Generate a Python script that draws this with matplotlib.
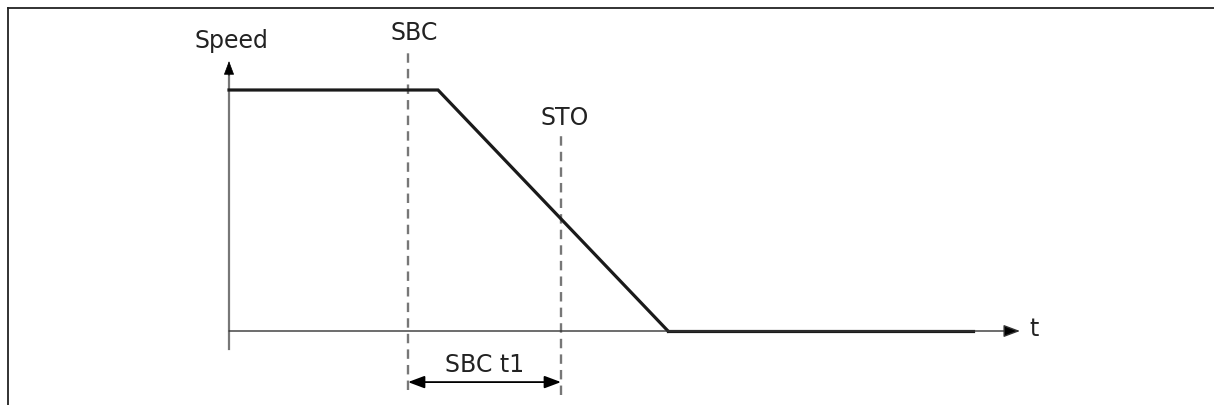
import matplotlib.pyplot as plt
from matplotlib.lines import Line2D

# speed profile (time in arbitrary units, speed normalised)
time_pts = [0.0, 2.09, 4.39]
speed_pts = [1.0, 1.0, 0.0]
stop_end = 7.44          # end of the bold zero-speed segment
t_axis_end = 7.91        # arrow tip of time axis
v_axis_end = 1.12        # arrow tip of speed axis
v_axis_low = -0.075      # speed axis runs a bit below zero

markers = ["SBC", "STO"]
marker_t = [1.79, 3.32]
marker_top = [1.166, 0.82]
marker_bottom = [-0.245, -0.265]
marker_label_t = [1.85, 3.36]
marker_label_v = [1.236, 0.884]

span_label = "SBC t1"
span_v = -0.212

FS = 17
arrow_head = "-|>,head_length=0.4,head_width=0.15"

fig = plt.figure(figsize=(12.14, 4.05), dpi=100)
ax = fig.add_axes([0, 0, 1, 1])
ax.set_xlim(-2.29, 9.85)
ax.set_ylim(-74 / 241, 331 / 241)
ax.axis("off")

# frame around picture (left and top edges only)
fig.add_artist(Line2D([8 / 1214, 8 / 1214], [0, 1 - 8 / 405], color="#222222", lw=1.3))
fig.add_artist(Line2D([8 / 1214, 1], [1 - 8 / 405, 1 - 8 / 405], color="#222222", lw=1.3))

# speed axis: grey shaft, black head
ax.plot([0, 0], [v_axis_low, v_axis_end - 0.03], color="#777777", lw=1.6)
ax.annotate("", xy=(0, v_axis_end), xytext=(0, v_axis_end - 0.06),
            arrowprops=dict(arrowstyle=arrow_head, lw=0.5, mutation_scale=22,
                            shrinkA=0, shrinkB=0, fc="black", ec="black"))
# time axis
ax.annotate("", xy=(t_axis_end, 0), xytext=(0, 0),
            arrowprops=dict(arrowstyle=arrow_head, lw=1.0, mutation_scale=25,
                            shrinkA=0, shrinkB=0, fc="black", ec="#333333"))
ax.text(0.02, 1.203, "Speed", fontsize=FS, color="#222222", ha="center", va="center")
ax.text(8.05, 0.01, "t", fontsize=FS, color="#222222", ha="center", va="center")

# SBC / STO markers
for name, tm, top, bot, lx, ly in zip(markers, marker_t, marker_top, marker_bottom,
                                      marker_label_t, marker_label_v):
    ax.plot([tm, tm], [bot, top], color="#777777", lw=1.7, dashes=(4, 2.6))
    ax.text(lx, ly, name, fontsize=FS, color="#222222", ha="center", va="center")

# speed curve
ax.plot(time_pts, speed_pts, color="#1a1a1a", lw=2.3, solid_joinstyle="miter")
ax.plot([time_pts[-1], stop_end], [0, 0], color="#1a1a1a", lw=2.3)

# time span between SBC and STO
ax.annotate("", xy=(marker_t[0], span_v), xytext=(marker_t[1], span_v),
            arrowprops=dict(arrowstyle="<|-|>,head_length=0.4,head_width=0.15",
                            color="black", lw=1.3, mutation_scale=25,
                            shrinkA=0, shrinkB=0))
ax.text((marker_t[0] + marker_t[1]) / 2, -0.142, span_label, fontsize=FS,
        color="#222222", ha="center", va="center")

fig.savefig("out.png", dpi=100)
